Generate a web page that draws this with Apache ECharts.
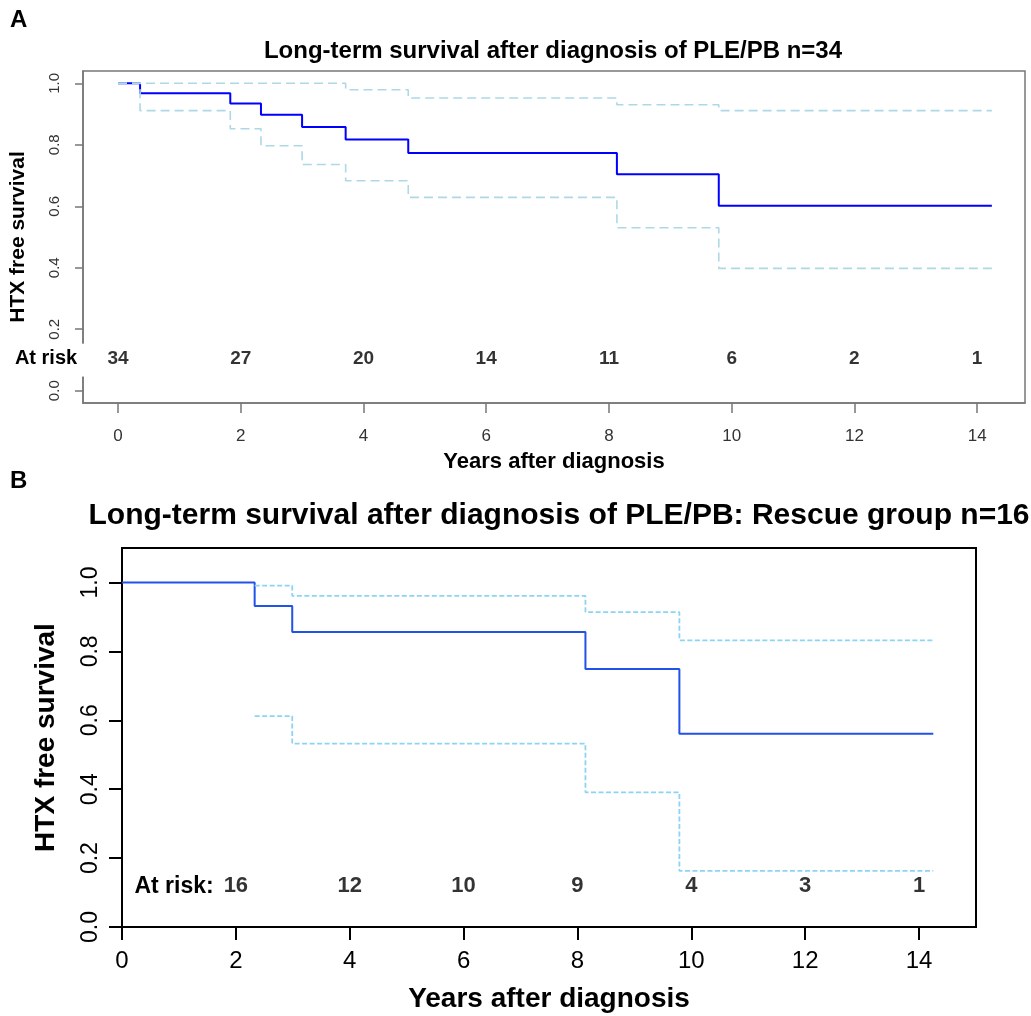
<!DOCTYPE html>
<html>
<head>
<meta charset="utf-8">
<script src="https://cdn.jsdelivr.net/npm/echarts@6/dist/echarts.min.js"></script>
<style>
  html, body { margin: 0; padding: 0; background: #fff; }
  #chart { width: 1031px; height: 1016px; }
</style>
</head>
<body>
<div id="chart"></div>
<script>
// panel A: all patients
const timesA = [0, 0.36, 1.83, 2.33, 3.00, 3.71, 4.73, 8.13, 9.79, 14.24]
const survA = [1, 0.968, 0.934, 0.898, 0.858, 0.817, 0.773, 0.704, 0.602, 0.602]
const upperA = [1, 1, 1, 1, 1, 0.979, 0.952, 0.930, 0.911, 0.911]
const lowerA = [1, 0.911, 0.852, 0.797, 0.736, 0.683, 0.629, 0.530, 0.398, 0.398]
const riskTimesA = [0, 2, 4, 6, 8, 10, 12, 14]
const riskA = [34, 27, 20, 14, 11, 6, 2, 1]

// panel B: rescue group
const timesB = [0, 2.33, 2.99, 8.14, 9.79, 14.25]
const survB = [1, 0.932, 0.856, 0.749, 0.561, 0.561]
const upperB = [null, 0.991, 0.961, 0.914, 0.832, 0.832]
const lowerB = [null, 0.612, 0.532, 0.391, 0.163, 0.163]
const riskTimesB = [2, 4, 6, 8, 10, 12, 14]
const riskB = [16, 12, 10, 9, 4, 3, 1]

const yTicks = [0, 0.2, 0.4, 0.6, 0.8, 1.0]
const xTicks = [0, 2, 4, 6, 8, 10, 12, 14]

const FONT = '"Liberation Sans", Arial, sans-serif'
const riskRowA = 0.104
const riskRowB = 0.118

const zip = (xs, ys) => xs.map((x, i) => [x, ys[i] == null ? '-' : ys[i]])

const chart = echarts.init(document.getElementById('chart'))

function stepLine(name, xs, ys, idx, color, width, dash) {
  return {
    name,
    type: 'line',
    step: 'end',
    xAxisIndex: idx,
    yAxisIndex: idx,
    data: zip(xs, ys),
    symbol: 'none',
    silent: true,
    connectNulls: false,
    lineStyle: { color, width, type: dash || 'solid' },
    z: dash ? 3 : 2,
  }
}

// numbers at risk, placed through the axes like any other mark
function riskRow(idx, xs, counts, y, size) {
  return {
    type: 'scatter',
    xAxisIndex: idx,
    yAxisIndex: idx,
    symbol: 'circle',
    symbolSize: 0,
    itemStyle: { color: '#fff' },
    silent: true,
    data: xs.map((x, i) => [x, y, counts[i]]),
    label: {
      show: true,
      position: 'inside',
      formatter: p => p.value[2],
      fontFamily: FONT,
      fontWeight: 'bold',
      fontSize: size,
      color: '#000',
      textBorderWidth: 0,
    },
    z: 5,
  }
}

const option = {
  backgroundColor: '#fff',
  animation: false,
  title: [
    {
      text: 'Long-term survival after diagnosis of PLE/PB n=34',
      left: 548, top: 34, textAlign: 'center',
      textStyle: { fontFamily: FONT, fontWeight: 'bold', fontSize: 24, color: '#000' },
    },
    {
      text: 'Long-term survival after diagnosis of PLE/PB: Rescue group n=16',
      left: 554, top: 496, textAlign: 'center',
      textStyle: { fontFamily: FONT, fontWeight: 'bold', fontSize: 30, color: '#000' },
    },
  ],
  grid: [
    { left: 83, top: 71, width: 942, height: 332, show: true, borderColor: '#777', borderWidth: 1.5 },
    { left: 122, top: 548, width: 854, height: 379, show: true, borderColor: '#000', borderWidth: 2 },
  ],
  xAxis: [
    {
      gridIndex: 0, type: 'value', min: -0.57, max: 14.78,
      name: 'Years after diagnosis', nameLocation: 'middle', nameGap: 48,
      nameTextStyle: { fontFamily: FONT, fontWeight: 'bold', fontSize: 22, color: '#000' },
      axisLine: { show: true, onZero: false, lineStyle: { color: '#777', width: 1.5 } },
      axisTick: { show: true, length: 10, customValues: xTicks, lineStyle: { color: '#777', width: 1.5 } },
      axisLabel: { customValues: xTicks, margin: 25, fontFamily: FONT, fontSize: 17, color: '#333' },
      splitLine: { show: false },
    },
    {
      gridIndex: 1, type: 'value', min: 0, max: 15,
      name: 'Years after diagnosis', nameLocation: 'middle', nameGap: 58,
      nameTextStyle: { fontFamily: FONT, fontWeight: 'bold', fontSize: 28, color: '#000' },
      axisLine: { show: true, onZero: false, lineStyle: { color: '#000', width: 2 } },
      axisTick: { show: true, length: 13, customValues: xTicks, lineStyle: { color: '#000', width: 2 } },
      axisLabel: { customValues: xTicks, margin: 22, fontFamily: FONT, fontSize: 24, color: '#000' },
      splitLine: { show: false },
    },
  ],
  yAxis: [
    {
      gridIndex: 0, type: 'value', min: -0.04, max: 1.04,
      name: 'HTX free survival', nameLocation: 'middle', nameGap: 54, nameRotate: 90,
      nameTextStyle: { fontFamily: FONT, fontWeight: 'bold', fontSize: 21, color: '#000' },
      axisLine: { show: true, onZero: false, lineStyle: { color: '#777', width: 1.5 } },
      axisTick: { show: true, length: 8, customValues: yTicks, lineStyle: { color: '#777', width: 1.5 } },
      axisLabel: {
        customValues: yTicks, rotate: 90, margin: 21,
        formatter: v => v.toFixed(1), fontFamily: FONT, fontSize: 15, color: '#333',
      },
      splitLine: { show: false },
    },
    {
      gridIndex: 1, type: 'value', min: 0, max: 1.1,
      name: 'HTX free survival', nameLocation: 'middle', nameGap: 62, nameRotate: 90,
      nameTextStyle: { fontFamily: FONT, fontWeight: 'bold', fontSize: 28, color: '#000' },
      axisLine: { show: true, onZero: false, lineStyle: { color: '#000', width: 2 } },
      axisTick: { show: true, length: 13, customValues: yTicks, lineStyle: { color: '#000', width: 2 } },
      axisLabel: {
        customValues: yTicks, rotate: 90, margin: 20,
        formatter: v => v.toFixed(1), fontFamily: FONT, fontSize: 23, color: '#000',
      },
      splitLine: { show: false },
    },
  ],
  series: [
    stepLine('Survival A', timesA, survA, 0, '#0000ff', 2),
    stepLine('Upper A', timesA, upperA, 0, '#add8e6', 1.6, [9, 5]),
    stepLine('Lower A', timesA, lowerA, 0, '#add8e6', 1.6, [9, 5]),
    riskRow(0, riskTimesA, riskA, riskRowA, 19),
    stepLine('Survival B', timesB, survB, 1, '#2352e8', 2),
    stepLine('Upper B', timesB, upperB, 1, '#8cd4f4', 1.8, [5, 2.5]),
    stepLine('Lower B', timesB, lowerB, 1, '#8cd4f4', 1.8, [5, 2.5]),
    riskRow(1, riskTimesB, riskB, riskRowB, 22),
  ],
}

chart.setOption(option)

// white gap in panel A's left axis where the "At risk" row sits
const gapTop = chart.convertToPixel({ gridIndex: 0 }, [-0.57, 0.153])
const gapBottom = chart.convertToPixel({ gridIndex: 0 }, [-0.57, 0.046])
const rowA = chart.convertToPixel({ gridIndex: 0 }, [-0.57, riskRowA])
const rowB = chart.convertToPixel({ gridIndex: 1 }, [0, riskRowB])

chart.setOption({
  graphic: [
    {
      type: 'rect', z: 100,
      shape: { x: gapTop[0] - 4, y: gapTop[1], width: 8, height: gapBottom[1] - gapTop[1] },
      style: { fill: '#fff' },
    },
    {
      type: 'text', left: 10, top: 8, z: 100,
      style: { text: 'A', font: 'bold 24px ' + FONT, fill: '#000' },
    },
    {
      type: 'text', left: 10, top: 469, z: 100,
      style: { text: 'B', font: 'bold 24px ' + FONT, fill: '#000' },
    },
    {
      type: 'text', x: 46, y: rowA[1], z: 100,
      style: { text: 'At risk', font: 'bold 20px ' + FONT, fill: '#000', textAlign: 'center', textVerticalAlign: 'middle' },
    },
    {
      type: 'text', x: 174, y: rowB[1], z: 100,
      style: { text: 'At risk:', font: 'bold 23px ' + FONT, fill: '#000', textAlign: 'center', textVerticalAlign: 'middle' },
    },
  ],
})

window.addEventListener('resize', () => chart.resize())
</script>
</body>
</html>
